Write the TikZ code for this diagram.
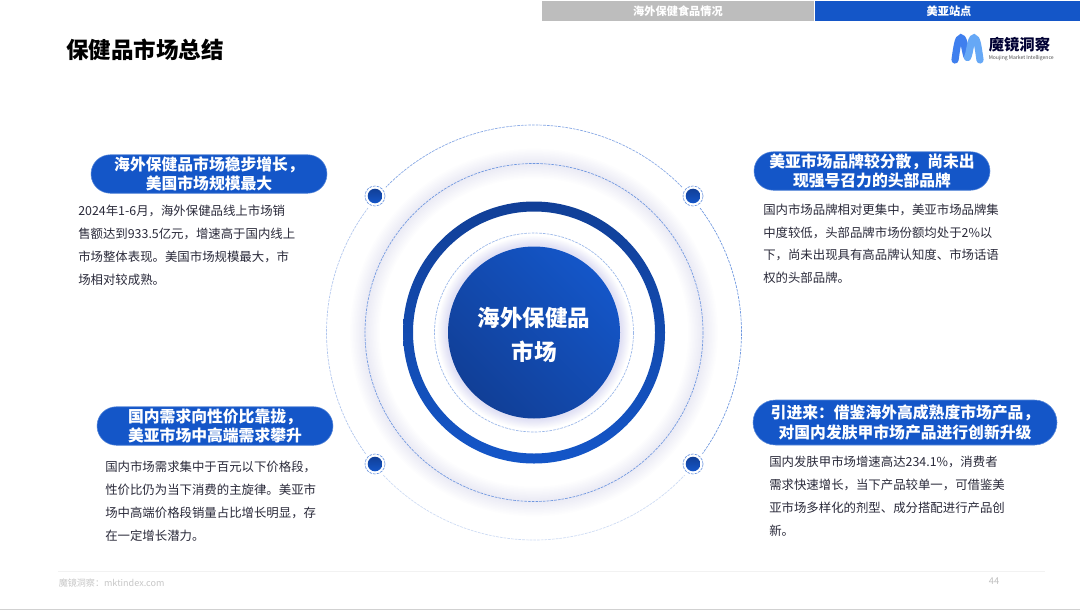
\documentclass[tikz,border=0pt]{standalone}
\usepackage{fontspec}
\setmainfont{Noto Sans CJK SC}
\usetikzlibrary{shapes.misc}
\definecolor{mjblue}{HTML}{1456C8}
\definecolor{mjdark}{HTML}{113F97}
\definecolor{mjdash}{HTML}{6F98E0}
\definecolor{mjglow}{HTML}{8C8CE0}
\definecolor{mjink}{HTML}{2A2A3A}
\definecolor{mjlogoA}{HTML}{3F7FEE}
\definecolor{mjlogoB}{HTML}{66A8F6}
\tikzset{
	pill/.style={rounded rectangle,fill=mjblue,draw=mjblue!70!white,line width=0.4pt,text=white,font=\fontsize{11.85}{14.8}\selectfont\bfseries,align=center,inner sep=0pt},
	bodytext/.style={anchor=north west,inner sep=0pt,text=mjink,align=left,font=\fontsize{9.3}{17.1}\selectfont},
	tabtext/.style={text=white,font=\fontsize{8.4}{10}\selectfont\bfseries,inner sep=0pt},
	ringdash/.style={color=mjdash,line width=0.5pt,dash pattern=on 2pt off 0.8pt},
}
\begin{document}
\begin{tikzpicture}[x=0.75pt,y=-0.75pt]
	\useasboundingbox (0,0) rectangle (1080,610);
	\fill[white] (0,0) rectangle (1080,610);
	\coordinate (ctr) at (534,332.5);
	% top tabs
	\fill[black!26] (542,1) rectangle (814,21);
	\fill[mjblue] (815,1) rectangle (1080,21);
	\node[tabtext] (tabL) at (678,11.5) {海外保健食品情况};
	\node[tabtext] (tabR) at (949,11.5) {美亚站点};
	\node[anchor=west,inner sep=0pt,font=\fontsize{16.9}{20}\selectfont\bfseries] (title) at (66,50) {保健品市场总结};
	% logo
	\draw[line width=5.4pt,line cap=round,color=mjlogoA] (955,60) .. controls (957,46) and (958,38) .. (961,38) .. controls (964.5,38) and (965,53) .. (967.5,57.5);
	\draw[line width=5.4pt,line cap=round,color=mjlogoB] (967.5,57.5) .. controls (970,53) and (970.5,38) .. (974,38) .. controls (977,38) and (978,46) .. (980,60);
	\node[anchor=west,inner sep=0pt,text=black!80!blue,font=\fontsize{11.5}{13}\selectfont\bfseries] (logoCN) at (988.5,45) {魔镜洞察};
	\node[anchor=west,inner sep=0pt,text=black!70,font=\fontsize{3.8}{5}\selectfont] (logoEN) at (988.5,58) {Moujing Market Intelligence};
	% glow of the rings
	\foreach \g in {1,...,10}{
		\draw[color=mjglow,opacity=0.014,line width=2.2*\g] (ctr) circle[radius=169];
		\draw[color=mjglow,opacity=0.025,line width=1.4*\g] (ctr) circle[radius=87];
	}
	% rings
	\draw[ringdash] (ctr) circle[radius=169];
	\draw[ringdash,color=mjdash!70!white] (ctr) circle[radius=99.5];
	\shade[even odd rule,top color=mjdark,bottom color=mjblue] (ctr) circle[radius=131] (ctr) circle[radius=121];
	\shade[top color=mjdark,bottom color=mjblue,shading angle=135] (ctr) circle[radius=86];
	\node[text=white,align=center,font=\fontsize{16.9}{25.5}\selectfont\bfseries,inner sep=0pt] (hub) at (534,335) {海外保健品\\市场};
	% outer ring, fading towards lower left
	\draw[ringdash] (ctr) ++(-41:207.5) arc[start angle=-41,end angle=41,radius=207.5];
	\draw[ringdash,color=mjdash!85!white] (ctr) ++(-139:207.5) arc[start angle=-139,end angle=-41,radius=207.5];
	\draw[ringdash,color=mjdash!55!white] (ctr) ++(139:207.5) arc[start angle=139,end angle=221,radius=207.5];
	\draw[ringdash,color=mjdash!35!white] (ctr) ++(41:207.5) arc[start angle=41,end angle=139,radius=207.5];
	% dots on the ring
	\foreach \n/\x/\y in {dotA/375/196,dotB/693/196,dotC/375/464,dotD/693/464}{
		\fill[white] (\x,\y) circle[radius=14];
		\draw[ringdash] (\x,\y) circle[radius=10];
		\shade[shading angle=135,top color=mjdark,bottom color=mjblue] (\x,\y) circle[radius=7.3];
		\coordinate (\n) at (\x,\y);
	}
	% four corner blocks
	\node[pill,minimum width=236*0.75pt,minimum height=38.5*0.75pt] (headA) at (209,174) {海外保健品市场稳步增长，\\美国市场规模最大};
	\node[bodytext] (bodyA) at (78,205) {2024年1-6月，海外保健品线上市场销\\售额达到933.5亿元，增速高于国内线上\\市场整体表现。美国市场规模最大，市\\场相对较成熟。};
	\node[pill,minimum width=236*0.75pt,minimum height=38.5*0.75pt] (headB) at (872,171) {美亚市场品牌较分散，尚未出\\现强号召力的头部品牌};
	\node[bodytext] (bodyB) at (763,203.5) {国内市场品牌相对更集中，美亚市场品牌集\\中度较低，头部品牌市场份额均处于2\%以\\下，尚未出现具有高品牌认知度、市场话语\\权的头部品牌。};
	\node[pill,minimum width=236*0.75pt,minimum height=38.5*0.75pt] (headC) at (215,426) {国内需求向性价比靠拢，\\美亚市场中高端需求攀升};
	\node[bodytext] (bodyC) at (105,461) {国内市场需求集中于百元以下价格段，\\性价比仍为当下消费的主旋律。美亚市\\场中高端价格段销量占比增长明显，存\\在一定增长潜力。};
	\node[pill,minimum width=304*0.75pt,minimum height=45*0.75pt] (headD) at (905,422.5) {引进来：借鉴海外高成熟度市场产品，\\对国内发肤甲市场产品进行创新升级};
	\node[bodytext] (bodyD) at (769,456) {国内发肤甲市场增速高达234.1\%，消费者\\需求快速增长，当下产品较单一，可借鉴美\\亚市场多样化的剂型、成分搭配进行产品创\\新。};
	% footer
	\draw[color=black!5,line width=0.5pt] (58,571) -- (1045,571);
	\node[anchor=west,inner sep=0pt,text=black!22,font=\fontsize{6.8}{8}\selectfont] (footL) at (58.5,583) {魔镜洞察：mktindex.com};
	\node[inner sep=0pt,text=black!25,font=\fontsize{7}{8}\selectfont] (page) at (994,581) {44};
	\fill[black!18] (0,609) rectangle (1080,610);
\end{tikzpicture}
\end{document}
